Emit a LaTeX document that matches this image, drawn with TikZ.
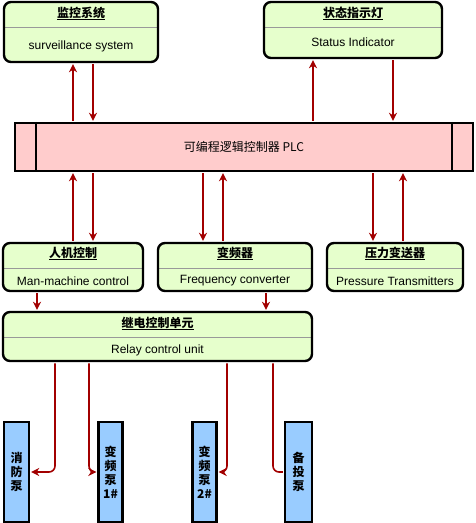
\documentclass[tikz,border=0pt]{standalone}
\usepackage{fontspec}
\setmainfont{Liberation Sans}
\newfontfamily\cjk{Noto Sans CJK SC}
\usetikzlibrary{arrows.meta}

\definecolor{unitfill}{HTML}{E6FFCC}
\definecolor{plcfill}{HTML}{FFCCCC}
\definecolor{pumpfill}{HTML}{99CCFF}
\definecolor{wire}{HTML}{A20000}

% underlined title
\newsavebox{\titlebox}
\newcommand{\titleline}[1]{\sbox{\titlebox}{#1}\rlap{\usebox{\titlebox}}\rule[-2.2pt]{\wd\titlebox}{0.9pt}}

\begin{document}
\begin{tikzpicture}[
            x=1pt, y=-1pt,
            unit/.style={
                    rectangle,
                    line width=2.4pt,
                    rounded corners=7pt,
                    draw=black,
                    fill=unitfill,
                    inner sep=0pt,
                    path picture={
                        \draw[black!40, line width=0.8pt]
                            ([yshift=-25pt]path picture bounding box.north west) --
                            ([yshift=-25pt]path picture bounding box.north east);
                    }
                },
            title/.style={
                    inner sep=0pt,
                    font=\cjk\bfseries\fontsize{12}{14}\selectfont
                },
            sub/.style={
                    inner sep=0pt,
                    font=\fontsize{12}{14}\selectfont
                },
            plcbox/.style={
                    rectangle,
                    line width=2.4pt,
                    draw=black,
                    fill=plcfill,
                    inner sep=0pt,
                    font=\cjk\fontsize{12}{14}\selectfont
                },
            pump/.style={
                    rectangle,
                    line width=2.4pt,
                    draw=black,
                    fill=pumpfill,
                    align=center,
                    inner sep=0pt,
                    font=\cjk\bfseries\fontsize{12}{14}\selectfont
                },
            link/.style={
                    draw=wire,
                    line width=1.6pt,
                    -{Stealth[length=8pt,width=8pt,inset=2.5pt]},
                    shorten <=1.2pt,
                    shorten >=1pt,
                    rounded corners=6pt
                }
        ]

        \useasboundingbox (0,0) rectangle (475,523);

        % Nodes
        \node [unit, minimum width=154pt, minimum height=60pt] (mon) at (81,32) {};
        \node [title] at ([yshift=-13pt]mon.north) {\titleline{监控系统}};
        \node [sub] at ([yshift=-46pt]mon.north) {surveillance system};

        \node [unit, minimum width=178pt, minimum height=56pt] (stat) at (353,30) {};
        \node [title] at ([yshift=-13pt]stat.north) {\titleline{状态指示灯}};
        \node [sub] at ([yshift=-41pt]stat.north) {Status Indicator};

        \node [plcbox, minimum width=458pt, minimum height=48pt] (plc) at (244,147) {可编程逻辑控制器 PLC};
        \draw [line width=2.4pt] (36,0 |- plc.north) -- (36,0 |- plc.south);
        \draw [line width=2.4pt] (452,0 |- plc.north) -- (452,0 |- plc.south);

        \node [unit, minimum width=140pt, minimum height=48pt] (hmi) at (73,267) {};
        \node [title] at ([yshift=-12pt]hmi.north) {\titleline{人机控制}};
        \node [sub] at ([yshift=-39pt]hmi.north) {Man-machine control};

        \node [unit, minimum width=154pt, minimum height=48pt] (vfd) at (235,267) {};
        \node [title] at ([yshift=-12pt]vfd.north) {\titleline{变频器}};
        \node [sub] at ([yshift=-39pt]vfd.north) {Frequency converter};

        \node [unit, minimum width=136pt, minimum height=48pt] (pt) at (395,267) {};
        \node [title] at ([yshift=-12pt]pt.north) {\titleline{压力变送器}};
        \node [sub] at ([yshift=-39pt]pt.north) {Pressure Transmitters};

        \node [unit, minimum width=309pt, minimum height=49pt] (relay) at (157.5,336.5) {};
        \node [title] at ([yshift=-13pt]relay.north) {\titleline{继电控制单元}};
        \node [sub] at ([yshift=-40pt]relay.north) {Relay control unit};

        \node [pump, minimum width=25pt, minimum height=100pt] (fire) at (16.5,472) {消\\防\\泵};
        \node [pump, minimum width=24pt, minimum height=100pt] (vp1) at (110.5,472) {变\\频\\泵\\1\#};
        \node [pump, minimum width=24pt, minimum height=100pt] (vp2) at (204.5,472) {变\\频\\泵\\2\#};
        \node [pump, minimum width=27pt, minimum height=100pt] (spare) at (298.5,472) {备\\投\\泵};

        % PLC links
        \path [link] (73,0 |- plc.north) -- (73,0 |- mon.south);
        \path [link] (93,0 |- mon.south) -- (93,0 |- plc.north);
        \path [link] (313,0 |- plc.north) -- (313,0 |- stat.south);
        \path [link] (393,0 |- stat.south) -- (393,0 |- plc.north);
        \path [link] (73,0 |- hmi.north) -- (73,0 |- plc.south);
        \path [link] (93,0 |- plc.south) -- (93,0 |- hmi.north);
        \path [link] (203,0 |- plc.south) -- (203,0 |- vfd.north);
        \path [link] (223,0 |- vfd.north) -- (223,0 |- plc.south);
        \path [link] (373,0 |- plc.south) -- (373,0 |- pt.north);
        \path [link] (403,0 |- pt.north) -- (403,0 |- plc.south);

        % Relay links
        \path [link] (37,0 |- hmi.south) -- (37,0 |- relay.north);
        \path [link] (266,0 |- vfd.south) -- (266,0 |- relay.north);
        \path [link] (55,0 |- relay.south) |- (fire.east);
        \path [link] (89,0 |- relay.south) |- (vp1.west);
        \path [link] (227,0 |- relay.south) |- (vp2.east);
        \path [link, -] (273,0 |- relay.south) |- (spare.west);
    \end{tikzpicture}
\end{document}
